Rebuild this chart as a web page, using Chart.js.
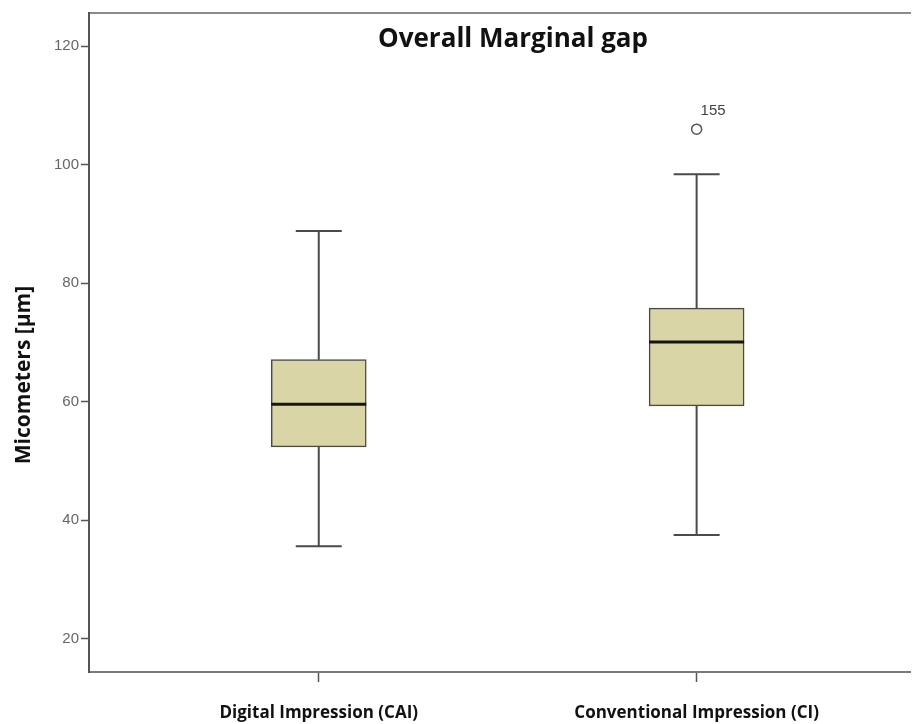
<!DOCTYPE html>
<html>
<head>
<meta charset="utf-8">
<script src="https://cdn.jsdelivr.net/npm/chart.js@4.4.0/dist/chart.umd.min.js"></script>
<style>
  html, body { margin:0; padding:0; background:#fff; overflow:hidden; }
  #wrap { width:917px; height:724px; position:relative; }
  canvas { display:block; }
</style>
</head>
<body>
<div id="wrap"><canvas id="grafico"></canvas></div>
<script>
// dati
let categorie = ["Digital Impression (CAI)", "Conventional Impression (CI)"];
let minimi   = [35.6, 37.5];
let q1       = [52.4, 59.3];
let mediane  = [59.6, 70.1];
let q3       = [67.1, 75.8];
let massimi  = [88.8, 98.4];
let outlier  = [{cat: 2, y: 106, label: "155"}];
let tickY    = [20, 40, 60, 80, 100, 120];

let boxData = [];
for (i = 0; i < categorie.length; i++) {
  boxData.push({x: i + 1, y: [q1[i], q3[i]]});
}
let outData = outlier.map(o => ({x: o.cat, y: o.y, label: o.label}));

const boxPlugin = {
  id: 'boxPlugin',
  afterDatasetsDraw(chart) {
    const ctx = chart.ctx;
    const xs = chart.scales.x, ys = chart.scales.y;
    ctx.save();
    for (i = 0; i < categorie.length; i++) {
      let cx = xs.getPixelForValue(i + 1);
      let cap = 23;
      ctx.strokeStyle = '#4a4a4a';
      ctx.lineWidth = 2;
      ctx.beginPath();
      ctx.moveTo(cx, ys.getPixelForValue(q3[i]));
      ctx.lineTo(cx, ys.getPixelForValue(massimi[i]));
      ctx.moveTo(cx, ys.getPixelForValue(q1[i]));
      ctx.lineTo(cx, ys.getPixelForValue(minimi[i]));
      ctx.moveTo(cx - cap, ys.getPixelForValue(massimi[i]));
      ctx.lineTo(cx + cap, ys.getPixelForValue(massimi[i]));
      ctx.moveTo(cx - cap, ys.getPixelForValue(minimi[i]));
      ctx.lineTo(cx + cap, ys.getPixelForValue(minimi[i]));
      ctx.stroke();
      // mediana
      let meta = chart.getDatasetMeta(0).data[i];
      let half = meta.width / 2;
      ctx.strokeStyle = '#151510';
      ctx.lineWidth = 3;
      ctx.beginPath();
      ctx.moveTo(cx - half, ys.getPixelForValue(mediane[i]));
      ctx.lineTo(cx + half, ys.getPixelForValue(mediane[i]));
      ctx.stroke();
    }
    // etichette outlier
    ctx.fillStyle = '#444';
    ctx.font = '15px "Liberation Sans", Arial, sans-serif';
    ctx.textBaseline = 'middle';
    outData.forEach(o => {
      ctx.fillText(o.label, xs.getPixelForValue(o.x) + 4, ys.getPixelForValue(o.y) - 18);
    });
    // titolo
    ctx.fillStyle = '#111';
    ctx.font = 'bold 26px "Open Sans", sans-serif';
    ctx.textAlign = 'center';
    ctx.textBaseline = 'alphabetic';
    ctx.fillText("Overall Marginal gap", 513, 47);
    // titolo asse y
    ctx.translate(30, 375);
    ctx.rotate(-Math.PI / 2);
    ctx.font = 'bold 21px "Open Sans", sans-serif';
    ctx.fillText("Micometers [\u00b5m]", 0, 0);
    ctx.restore();
  }
};

new Chart(document.getElementById('grafico'), {
  data: {
    datasets: [{
      type: 'bar',
      data: boxData,
      backgroundColor: '#d9d5a6',
      borderColor: '#4a4a44',
      borderWidth: 1.5,
      borderSkipped: false,
      barThickness: 95
    }, {
      type: 'scatter',
      data: outData,
      pointStyle: 'circle',
      pointRadius: 5,
      backgroundColor: '#fff',
      borderColor: '#555',
      borderWidth: 1.5
    }]
  },
  options: {
    animation: false,
    responsive: true,
    maintainAspectRatio: false,
    layout: { padding: 0 },
    plugins: { legend: { display: false }, tooltip: { enabled: false } },
    scales: {
      x: {
        type: 'linear',
        offset: false,
        min: 0.392,
        max: 2.566,
        afterBuildTicks: s => { s.ticks = [{value: 1}, {value: 2}]; },
        afterFit: s => { s.height = 52; },
        ticks: {
          callback: v => categorie[v - 1],
          color: '#111',
          font: { family: '"Open Sans", sans-serif', weight: 'bold', size: 17 },
          padding: 21,
          maxRotation: 0,
          autoSkip: false
        },
        grid: { offset: false, drawOnChartArea: false, drawTicks: true, tickLength: 10, tickColor: '#555', tickWidth: 1.5 },
        border: { color: '#7a7a7a', width: 2 }
      },
      xTop: {
        type: 'linear',
        position: 'top',
        min: 0, max: 1,
        afterFit: s => { s.height = 13; },
        ticks: { display: false },
        grid: { display: false },
        border: { color: '#8a8a8a', width: 2 }
      },
      y: {
        min: 14.4,
        max: 125.6,
        afterBuildTicks: s => { s.ticks = tickY.map(v => ({value: v})); },
        afterFit: s => { s.width = 89; },
        ticks: {
          color: '#666',
          font: { family: '"Liberation Sans", Arial, sans-serif', size: 15 },
          padding: 2
        },
        grid: { drawOnChartArea: false, drawTicks: true, tickLength: 8, tickColor: '#555', tickWidth: 1.5 },
        border: { color: '#555', width: 2 }
      }
    }
  },
  plugins: [boxPlugin]
});
</script>
</body>
</html>
